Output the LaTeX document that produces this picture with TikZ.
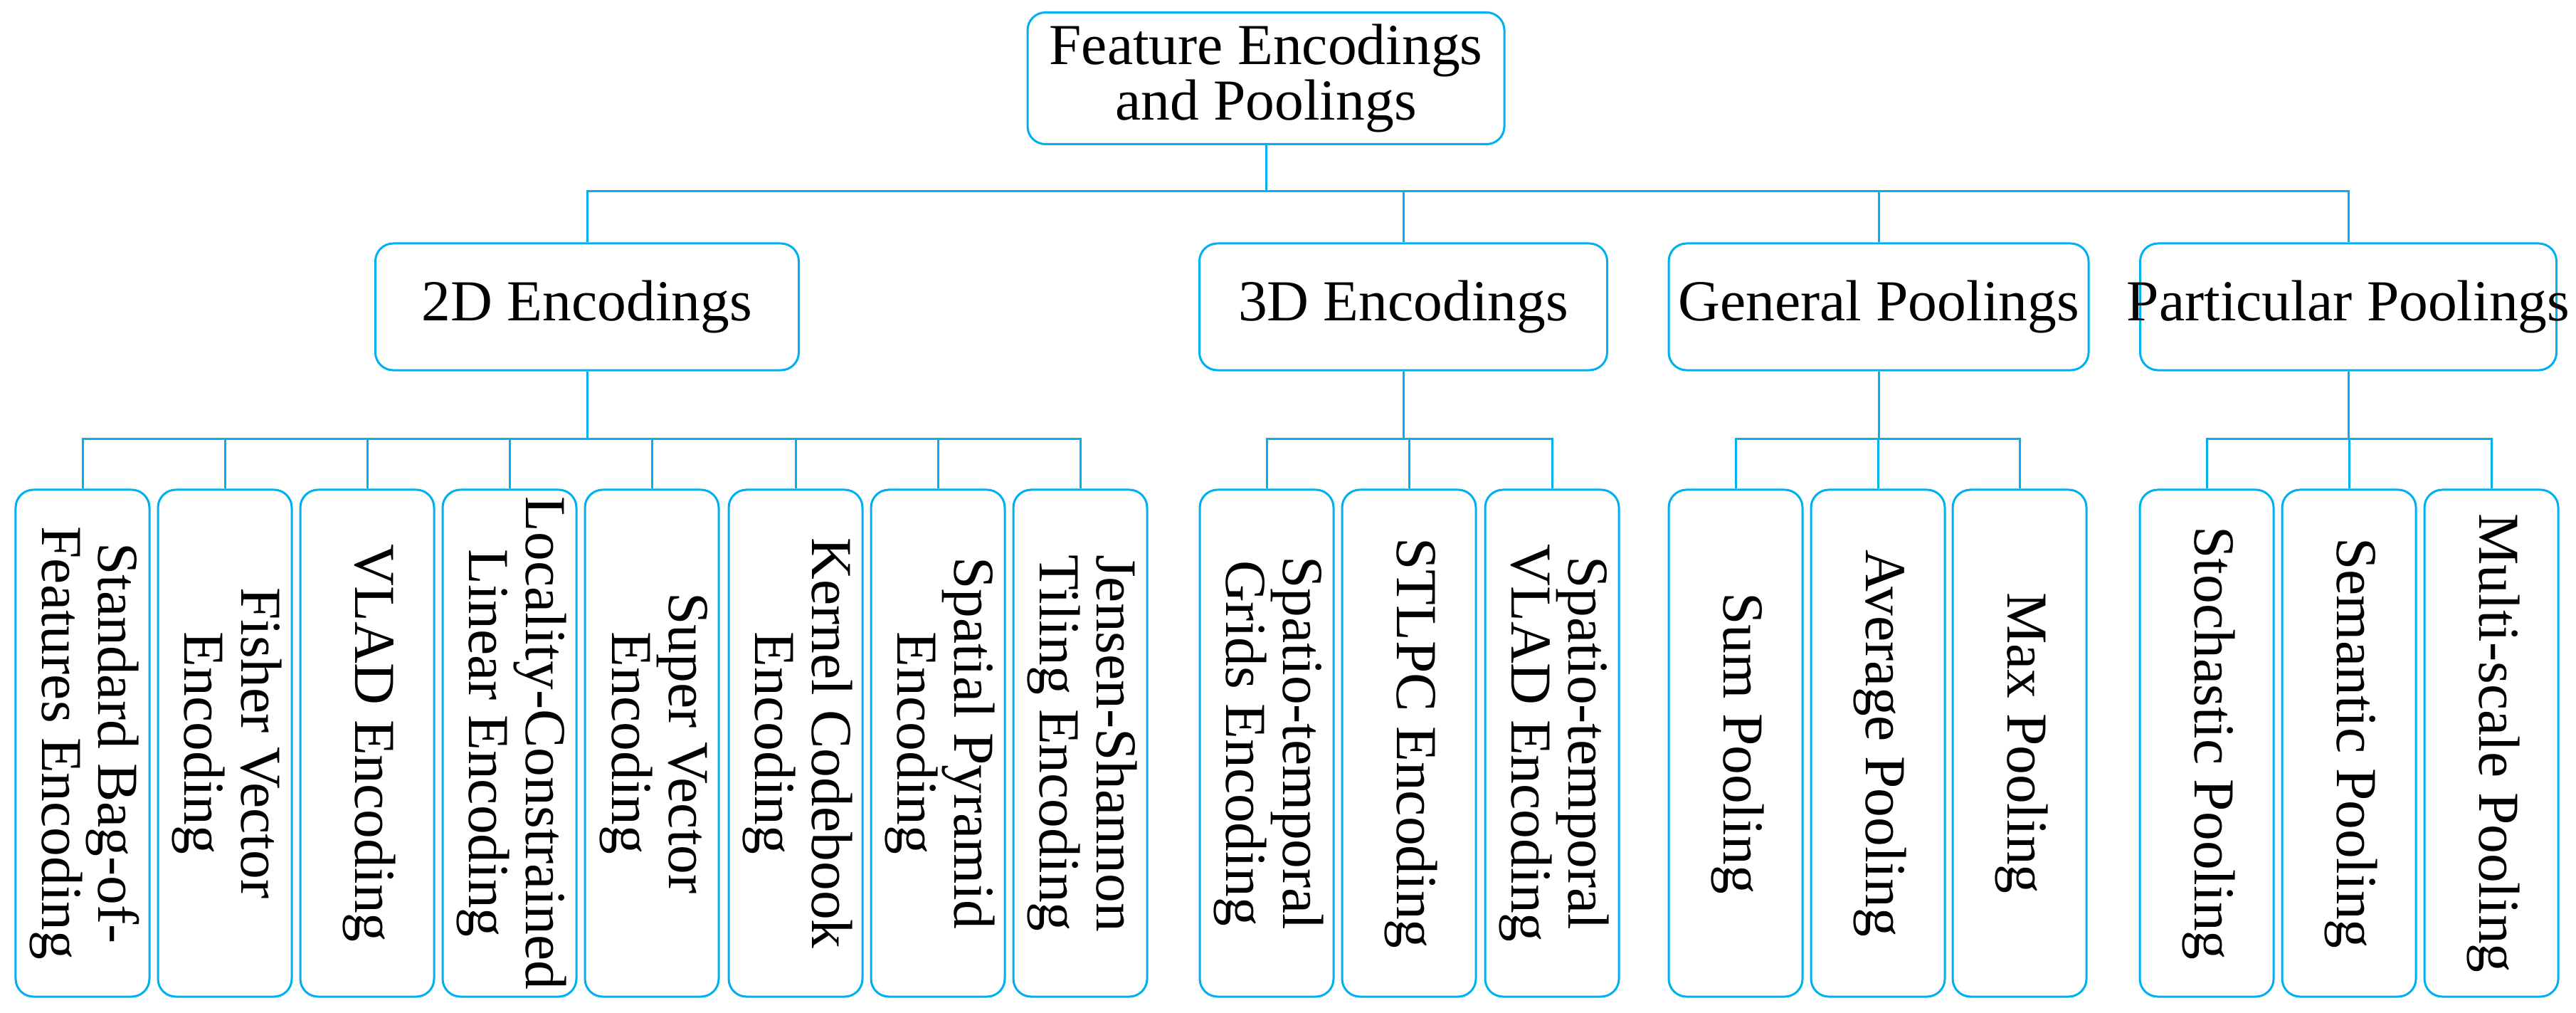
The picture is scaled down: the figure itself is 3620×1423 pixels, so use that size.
\documentclass[tikz,border=0pt]{standalone}
\usepackage{fontspec}
\setmainfont{Liberation Serif}
\usetikzlibrary{positioning}
\definecolor{linkblue}{RGB}{0,176,240}
\newcommand{\leaftext}[1]{\makebox[0pt]{\begin{tabular}{@{}c@{}}#1\end{tabular}}}

\begin{document}
\begin{tikzpicture}[
    x=0.2pt, y=-0.2pt,
    box/.style={rectangle, draw=linkblue, line width=0.6pt, rounded corners=5pt, inner sep=0pt, align=center, font=\fontsize{16.3}{15.5}\selectfont},
    leaf/.style={box, rotate=-90, minimum width=142.4pt, minimum height=37.6pt},
    link/.style={draw=linkblue, line width=0.6pt},
]
    \useasboundingbox (0,0) rectangle (3620,1423);

    % root
    \node[box, minimum width=134pt, minimum height=37pt] (root) at (1779,110) {Feature Encodings\\and Poolings};

    % second level
    \node[box, minimum width=119pt, minimum height=35.6pt] (enc2d) at (825,431) {2D Encodings};
    \node[box, minimum width=114.6pt, minimum height=35.6pt] (enc3d) at (1972,431) {3D Encodings};
    \node[box, minimum width=118pt, minimum height=35.6pt] (genpool) at (2640,431) {General Poolings};
    \node[box, minimum width=117pt, minimum height=35.6pt] (partpool) at (3300,431) {\makebox[0pt]{Particular Poolings}};

    \foreach \c in {enc2d,enc3d,genpool,partpool}
        \draw[link] (root.south) -- ++(0,-13pt) -| (\c.north);

    % 2D encodings
    \foreach \x/\n/\t in {116/a1/{Standard Bag-of-\\Features Encoding},
                          316/a2/{Fisher Vector\\Encoding},
                          516/a3/{VLAD Encoding},
                          716/a4/{Locality-Constrained\\Linear Encoding},
                          916/a5/{Super Vector\\Encoding},
                          1118/a6/{Kernel Codebook\\Encoding},
                          1318/a7/{Spatial Pyramid\\Encoding},
                          1518/a8/{Jensen-Shannon\\Tiling Encoding}} {
        \node[leaf] (\n) at (\x,1044) {\leaftext{\t}};
        \draw[link] (enc2d.south) -- ++(0,-19pt) -| (\n.west);
    }

    % 3D encodings
    \foreach \x/\n/\t in {1780/b1/{Spatio-temporal\\Grids Encoding},
                          1980/b2/{STLPC Encoding},
                          2181/b3/{Spatio-temporal\\VLAD Encoding}} {
        \node[leaf] (\n) at (\x,1044) {\leaftext{\t}};
        \draw[link] (enc3d.south) -- ++(0,-19pt) -| (\n.west);
    }

    % general poolings
    \foreach \x/\n/\t in {2439/c1/{Sum Pooling},
                          2639/c2/{Average Pooling},
                          2838/c3/{Max Pooling}} {
        \node[leaf] (\n) at (\x,1044) {\leaftext{\t}};
        \draw[link] (genpool.south) -- ++(0,-19pt) -| (\n.west);
    }

    % particular poolings
    \foreach \x/\n/\t in {3101/d1/{Stochastic Pooling},
                          3301/d2/{Semantic Pooling},
                          3501/d3/{Multi-scale Pooling}} {
        \node[leaf] (\n) at (\x,1044) {\leaftext{\t}};
        \draw[link] (partpool.south) -- ++(0,-19pt) -| (\n.west);
    }
\end{tikzpicture}
\end{document}
